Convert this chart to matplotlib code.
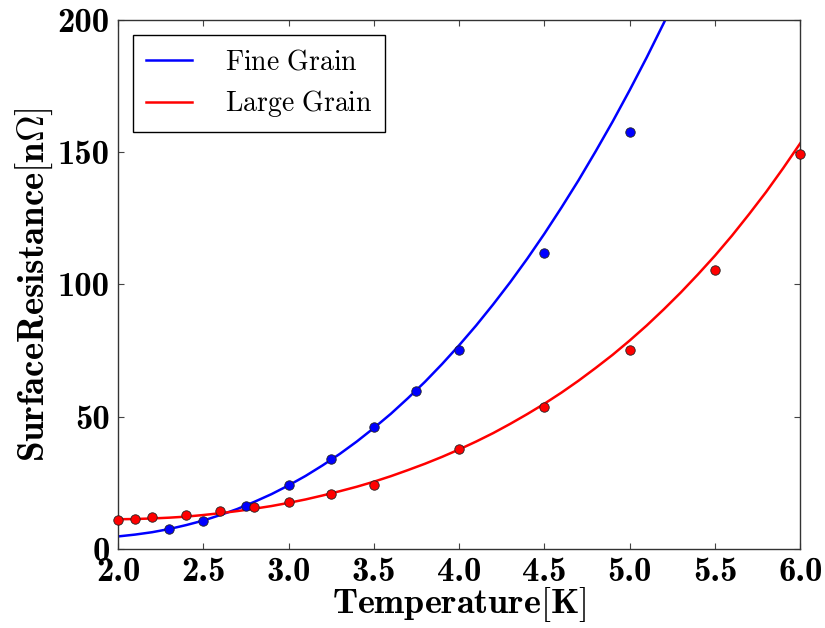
import numpy as np
import matplotlib
matplotlib.use("Agg")
import matplotlib.pyplot as plt
from matplotlib.ticker import FuncFormatter

plt.rcParams['mathtext.fontset'] = 'cm'

# Measured surface resistance (points)
T_fine = [2.3, 2.5, 2.75, 3.0, 3.25, 3.5, 3.75, 4.0, 4.5, 5.0]
R_fine = [7.7, 10.7, 16.4, 24.2, 34.1, 46.0, 59.7, 75.2, 111.9, 157.5]
T_large = [2.0, 2.1, 2.2, 2.4, 2.6, 2.8, 3.0, 3.25, 3.5, 4.0, 4.5, 5.0, 5.5, 6.0]
R_large = [11.0, 11.3, 12.0, 13.0, 14.2, 15.8, 17.6, 20.7, 24.1, 37.8, 53.8, 75.2, 105.5, 149.2]

# Fit curves
T_fit_fine = [2.0, 2.1, 2.2, 2.3, 2.4, 2.5, 2.6, 2.7, 2.8, 2.9, 3.0, 3.1, 3.2, 3.3,
              3.4, 3.5, 3.6, 3.7, 3.8, 3.9, 4.0, 4.1, 4.2, 4.3, 4.4, 4.5, 4.6, 4.7,
              4.8, 4.9, 5.0, 5.1, 5.2, 5.3]
R_fit_fine = [4.7, 5.4, 6.3, 7.5, 9.0, 10.7, 12.8, 15.1, 17.8, 20.7, 24.0, 27.6, 31.6,
              35.9, 40.6, 45.7, 51.1, 57.0, 63.2, 69.9, 77.0, 84.5, 92.5, 100.9, 109.8,
              119.2, 129.1, 139.4, 150.3, 161.6, 173.5, 185.9, 198.9, 212.4]
T_fit_large = [2.0, 2.1, 2.2, 2.3, 2.4, 2.5, 2.6, 2.7, 2.8, 2.9, 3.0, 3.1, 3.2, 3.3,
               3.4, 3.5, 3.6, 3.7, 3.8, 3.9, 4.0, 4.1, 4.2, 4.3, 4.4, 4.5, 4.6, 4.7,
               4.8, 4.9, 5.0, 5.1, 5.2, 5.3, 5.4, 5.5, 5.6, 5.7, 5.8, 5.9, 6.0]
R_fit_large = [11.2, 11.3, 11.5, 11.8, 12.2, 12.8, 13.5, 14.3, 15.2, 16.2, 17.4, 18.7,
               20.2, 21.8, 23.5, 25.4, 27.5, 29.8, 32.2, 34.8, 37.6, 40.6, 43.8, 47.3,
               51.0, 54.9, 59.1, 63.6, 68.4, 73.4, 78.8, 84.5, 90.6, 97.0, 103.8, 110.9,
               118.5, 126.6, 135.0, 144.0, 153.4]

fig = plt.figure(figsize=(8.25, 6.28), dpi=100)
ax = fig.add_axes([0.143, 0.126, 0.827, 0.842])

ax.plot(T_fit_fine, R_fit_fine, color='blue', lw=1.8, label=r'$\mathrm{Fine\ Grain}$')
ax.plot(T_fit_large, R_fit_large, color='red', lw=1.8, label=r'$\mathrm{Large\ Grain}$')
ax.plot(T_fine, R_fine, 'o', color='blue', mec='#222222', mew=0.6, ms=6.8,
        clip_on=False, zorder=3)
ax.plot(T_large, R_large, 'o', color='red', mec='#222222', mew=0.6, ms=6.8,
        clip_on=False, zorder=3)

ax.set_xlim(2.0, 6.0)
ax.set_ylim(0, 200)
ax.set_xticks(np.arange(2.0, 6.01, 0.5))
ax.set_yticks(np.arange(0, 201, 50))
ax.xaxis.set_major_formatter(FuncFormatter(lambda v, p: '%.1f' % v))
ax.yaxis.set_major_formatter(FuncFormatter(lambda v, p: '%d' % v))
ax.tick_params(direction='in', top=True, right=True, length=4.5, width=0.8,
               labelsize=25, pad=6, color='#444444')
for lab in ax.get_xticklabels() + ax.get_yticklabels():
    lab.set_fontfamily('cmb10')
for s in ax.spines.values():
    s.set_linewidth(1.0)
    s.set_color('#333333')

ax.set_xlabel(r'$\mathbf{Temperature[K]}$', fontsize=26, labelpad=-2)
ax.set_ylabel(r'$\mathbf{SurfaceResistance[n\Omega]}$', fontsize=26.5, labelpad=2)

leg = ax.legend(loc='upper left', fontsize=20, fancybox=False, edgecolor='black',
                framealpha=1, handlelength=1.65, handletextpad=1.2, borderpad=0.45,
                borderaxespad=0.55, labelspacing=0.45)
leg.get_frame().set_linewidth(1.0)

fig.savefig('out.png', dpi=100)
